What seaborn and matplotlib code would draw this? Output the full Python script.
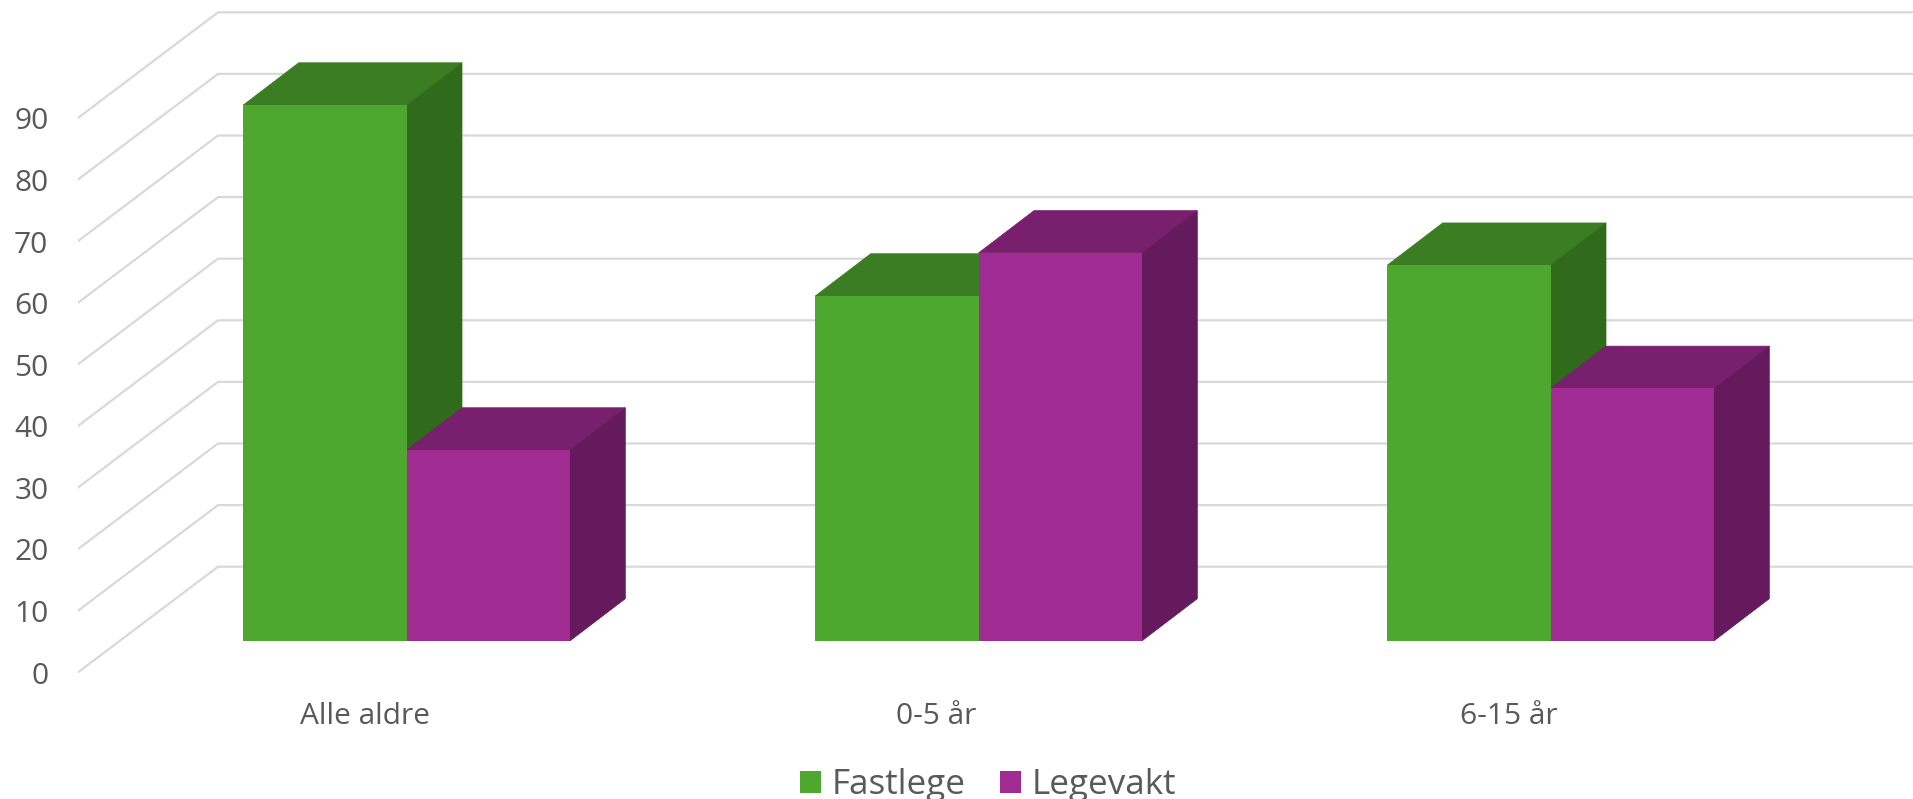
# 3D-looking grouped bars, Fastlege vs Legevakt
import pandas as pd
import matplotlib
matplotlib.use('Agg')
import matplotlib.pyplot as plt
import seaborn as sns

# Data
categories = ['Alle aldre', '0-5 år', '6-15 år']
fastlege = [87, 56, 61]
legevakt = [31, 63, 41]
y_ticks = [0, 10, 20, 30, 40, 50, 60, 70, 80, 90]

W, H = 1913, 799
PX_PER_UNIT = 6.16
TEXT = '#595959'
GRID = '#D9D9D9'
faces = {
    'Fastlege': ('#4EA72E', '#3A7D22', '#2F6B1A'),
    'Legevakt': ('#A02B93', '#78206E', '#641A5C'),
}

sns.set_theme(style='white')
plt.rcParams['font.family'] = ['Open Sans', 'DejaVu Sans']

df = pd.DataFrame({
    'group': categories * 2,
    'value': fastlege + legevakt,
    'series': ['Fastlege'] * 3 + ['Legevakt'] * 3,
})

fig = plt.figure(figsize=(W / 100, H / 100), dpi=100, facecolor='white')

# Wall: front edge of the floor is at y=672.7 px, x=77.5 px
wall_bottom = 672.7
wall = fig.add_axes([77.5 / W, 1 - wall_bottom / H, 1 - 77.5 / W, wall_bottom / H])
wall.set_xlim(0, W - 77.5)
wall.set_ylim(0, wall_bottom / PX_PER_UNIT)
wall_dx = 140.5
wall_dy = 106 / PX_PER_UNIT
for v in y_ticks:
    wall.plot([0, wall_dx, W], [v, v + wall_dy, v + wall_dy], color=GRID, lw=1.6)
wall.set_yticks(y_ticks)
wall.set_xticks([])
wall.tick_params(axis='y', length=0, pad=21, labelsize=21.5, labelcolor=TEXT)
sns.despine(ax=wall, left=True, bottom=True)
wall.patch.set_visible(False)

# Bars: floor line of the front faces is at y=641 px
bar_bottom = 641
first_center = 406.5
spacing = 572
ax = fig.add_axes([0, 1 - bar_bottom / H, 1, bar_bottom / H])
ax.patch.set_visible(False)
sns.barplot(data=df, x='group', y='value', hue='series', order=categories,
            hue_order=['Fastlege', 'Legevakt'],
            palette={k: v[0] for k, v in faces.items()},
            width=0.571, gap=0, saturation=1, linewidth=0, ax=ax, zorder=3)
ax.set_xlim(-first_center / spacing, (W - first_center) / spacing)
ax.set_ylim(0, bar_bottom / PX_PER_UNIT)

# Top and side faces are worked out from the bars seaborn drew
dx = 55.5 / spacing
dy = 42.3 / PX_PER_UNIT
for name, container in zip(['Fastlege', 'Legevakt'], ax.containers):
    z = 1 if name == 'Fastlege' else 2
    _, top_col, side_col = faces[name]
    for bar in container:
        x0 = bar.get_x()
        x1 = x0 + bar.get_width()
        h = bar.get_height()
        bar.set_zorder(3)
        ax.fill([x0, x1, x1 + dx, x0 + dx], [h, h, h + dy, h + dy],
                color=top_col, lw=0.5, zorder=z)
        ax.fill([x1, x1 + dx, x1 + dx, x1], [0, dy, h + dy, h],
                color=side_col, lw=0.5, zorder=z)

# Category labels sit a bit left of the group centre, as in the original
ax.set_xticks([i - 42 / spacing for i in range(len(categories))])
ax.set_xticklabels(categories)
ax.set_yticks([])
ax.set_xlabel('')
ax.set_ylabel('')
ax.tick_params(axis='x', length=0, pad=44, labelsize=21.5, labelcolor=TEXT)
sns.despine(ax=ax, left=True, bottom=True)

handles, labels = ax.get_legend_handles_labels()
ax.legend(handles, labels, loc='center', bbox_to_anchor=(988 / W, 1 - 785.5 / H),
          bbox_transform=fig.transFigure, ncol=2, frameon=False, fontsize=25.2,
          labelcolor=TEXT, handlelength=0.6, handleheight=0.6,
          handletextpad=0.3, columnspacing=1.0, borderpad=0, borderaxespad=0)

fig.savefig('out.png', dpi=100, facecolor='white')
